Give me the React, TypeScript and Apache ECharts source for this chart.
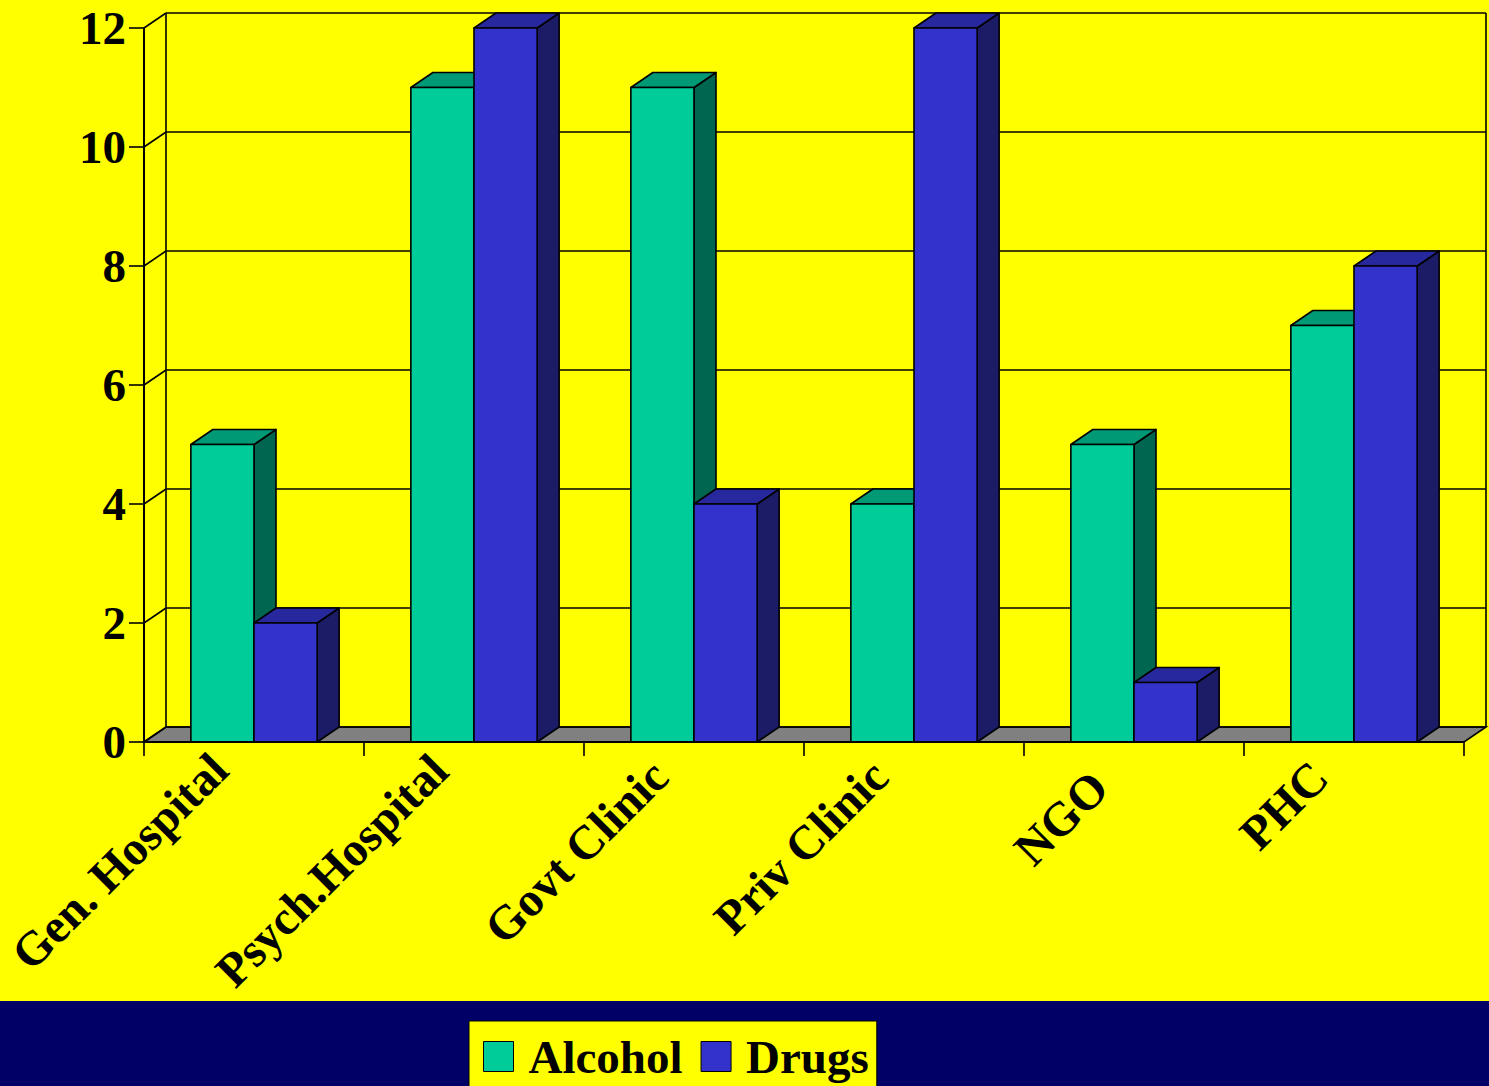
import React, { useEffect, useRef } from "react";
import * as echarts from "echarts";

const categories = ["Gen. Hospital", "Psych.Hospital", "Govt Clinic", "Priv Clinic", "NGO", "PHC"];
const alcohol = [5, 11, 11, 4, 5, 7];
const drugs = [2, 12, 4, 12, 1, 8];
const yTicks = [0, 2, 4, 6, 8, 10, 12];
const seriesNames = ["Alcohol", "Drugs"];

// per-label fine placement (style only): upward nudge in px
const labelNudge = [18, 17, 11, 11, 0, 10];

const DX = 22;
const DY = -15;
const FONT = "'Liberation Serif', 'Times New Roman', serif";
const LABEL_SIZE = 48;
const BASE_LH = 50;

const faceColors = {
  Alcohol: { front: "#00CC99", top: "#009975", side: "#006650" },
  Drugs: { front: "#3333CC", top: "#28289E", side: "#1C1C66" },
};

const labelRich: Record<string, any> = {};
labelNudge.forEach((u, i) => {
  labelRich["l" + i] = {
    fontFamily: FONT,
    fontWeight: "bold",
    fontSize: LABEL_SIZE,
    color: "#000",
    lineHeight: BASE_LH + 1.414 * u,
    padding: [0, 24 - 0.707 * u, 0, 0],
  };
});

function barRenderer(which: "Alcohol" | "Drugs") {
  return (params: any, api: any) => {
    const idx = api.value(0);
    const val = api.value(1);
    const top = api.coord([idx, val]);
    const base = api.coord([idx, 0]);
    const band = api.size([1, 0])[0];
    const w = band * 0.287;
    const cx = top[0];
    const x0 = which === "Alcohol" ? cx - w : cx;
    const x1 = x0 + w;
    const yT = top[1];
    const yB = base[1];
    const c = faceColors[which];
    const stroke = { stroke: "#000", lineWidth: 1.6, lineJoin: "round" };
    return {
      type: "group",
      children: [
        {
          type: "polygon",
          shape: { points: [[x1, yT], [x1 + DX, yT + DY], [x1 + DX, yB + DY], [x1, yB]] },
          style: { fill: c.side, ...stroke },
        },
        {
          type: "polygon",
          shape: { points: [[x0, yT], [x1, yT], [x1 + DX, yT + DY], [x0 + DX, yT + DY]] },
          style: { fill: c.top, ...stroke },
        },
        {
          type: "rect",
          shape: { x: x0, y: yT, width: w, height: yB - yT },
          style: { fill: c.front, ...stroke },
        },
      ],
    };
  };
}

function wallRenderer(params: any, api: any) {
  const cs = params.coordSys;
  const v = api.value(1);
  const p = api.coord([0, v]);
  const xL = cs.x;
  const xR = cs.x + cs.width;
  const y = p[1];
  const lineStyle = { stroke: "#000", lineWidth: 1.6 };
  const children: any[] = [];
  if (v === 0) {
    children.push({
      type: "polygon",
      shape: { points: [[xL, y], [xR, y], [xR + DX, y + DY], [xL + DX, y + DY]] },
      style: { fill: "#808080", stroke: "#000", lineWidth: 1.6 },
    });
    const yTop = api.coord([0, yTicks[yTicks.length - 1]])[1];
    children.push({
      type: "line",
      shape: { x1: xL + DX, y1: yTop + DY, x2: xL + DX, y2: y + DY },
      style: lineStyle,
    });
    children.push({
      type: "line",
      shape: { x1: xR + DX, y1: yTop + DY, x2: xR + DX, y2: y + DY },
      style: lineStyle,
    });
  }
  children.push({
    type: "line",
    shape: { x1: xL, y1: y, x2: xL + DX, y2: y + DY },
    style: lineStyle,
  });
  children.push({
    type: "line",
    shape: { x1: xL + DX, y1: y + DY, x2: xR + DX, y2: y + DY },
    style: lineStyle,
  });
  return { type: "group", children };
}

export default function App() {
  const ref = useRef<HTMLDivElement>(null);
  useEffect(() => {
    if (!ref.current) return;
    const chart = echarts.init(ref.current, undefined, { renderer: "svg" });
    chart.setOption({
      animation: false,
      backgroundColor: "#FFFF00",
      grid: { left: 144, right: 25, top: 28, bottom: 344, containLabel: false },
      graphic: [
        {
          type: "rect",
          z: 0,
          shape: { x: 0, y: 1001, width: 1489, height: 85 },
          style: { fill: "#000066" },
        },
      ],
      legend: {
        data: seriesNames,
        left: 469,
        top: 1021,
        z: 10,
        orient: "horizontal",
        backgroundColor: "#FFFF00",
        borderColor: "#000",
        borderWidth: 1,
        padding: [12, 8, 14, 14],
        itemWidth: 30,
        itemHeight: 30,
        itemGap: 18,
        icon: "rect",
        itemStyle: { borderColor: "#000", borderWidth: 1 },
        textStyle: {
          fontFamily: FONT,
          fontWeight: "bold",
          fontSize: 47,
          color: "#000",
          padding: [0, 0, 0, 10],
        },
      },
      xAxis: {
        type: "category",
        data: categories,
        boundaryGap: true,
        axisLine: { show: true, lineStyle: { color: "#000", width: 2 } },
        axisTick: { show: true, length: 14, lineStyle: { color: "#000", width: 1.6 } },
        axisLabel: {
          rotate: 45,
          interval: 0,
          margin: 38,
          verticalAlign: "bottom",
          formatter: (v: string, i: number) => `{l${i}|${v}}`,
          rich: labelRich,
          fontFamily: FONT,
          fontWeight: "bold",
          fontSize: LABEL_SIZE,
          color: "#000",
        },
        splitLine: { show: false },
        z: 5,
      },
      yAxis: {
        type: "value",
        min: 0,
        max: 12,
        interval: 2,
        axisLine: { show: true, lineStyle: { color: "#000", width: 2 } },
        axisTick: { show: true, length: 15, lineStyle: { color: "#000", width: 1.6 } },
        axisLabel: {
          margin: 18,
          fontFamily: FONT,
          fontWeight: "bold",
          fontSize: 47,
          color: "#000",
        },
        splitLine: { show: false },
        z: 5,
      },
      series: [
        {
          name: "wall",
          type: "custom",
          renderItem: wallRenderer,
          data: yTicks.map((v) => [0, v]),
          z: 1,
          silent: true,
          clip: false,
        },
        {
          name: "Alcohol",
          type: "custom",
          renderItem: barRenderer("Alcohol"),
          itemStyle: { color: faceColors.Alcohol.front },
          data: alcohol.map((v, i) => [i, v]),
          z: 2,
          clip: false,
        },
        {
          name: "Drugs",
          type: "custom",
          renderItem: barRenderer("Drugs"),
          itemStyle: { color: faceColors.Drugs.front },
          data: drugs.map((v, i) => [i, v]),
          z: 3,
          clip: false,
        },
      ],
    });
    return () => chart.dispose();
  }, []);
  return (
    <div
      ref={ref}
      style={{ position: "fixed", left: 0, top: 0, width: 1489, height: 1086 }}
    />
  );
}
